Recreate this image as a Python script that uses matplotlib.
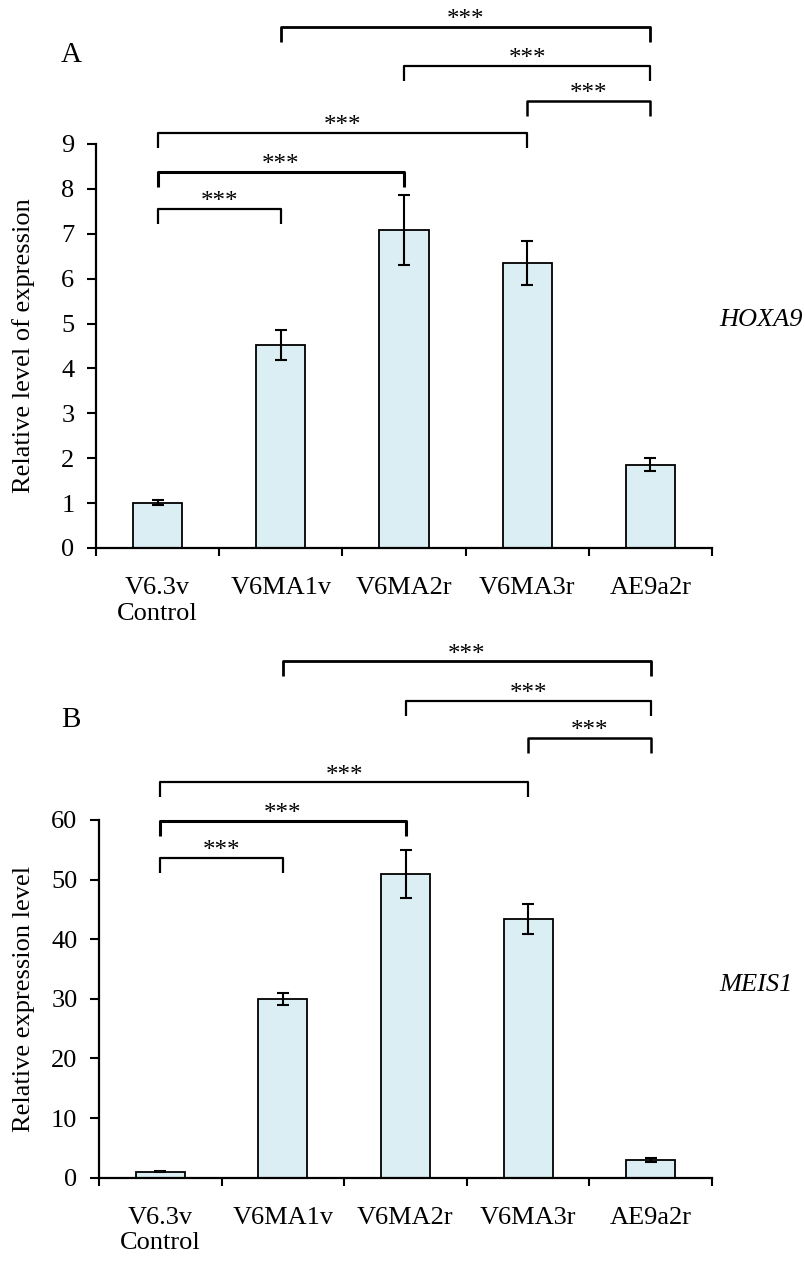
import matplotlib
matplotlib.use('Agg')
import matplotlib.pyplot as plt

plt.rcParams['font.family'] = ['Liberation Serif', 'DejaVu Serif']

groups = ['V6.3v\nControl', 'V6MA1v', 'V6MA2r', 'V6MA3r', 'AE9a2r']
hoxa9 = [1.01, 4.52, 7.08, 6.34, 1.86]
hoxa9_err = [0.06, 0.33, 0.78, 0.49, 0.15]
meis1 = [1.0, 30.0, 51.0, 43.4, 3.0]
meis1_err = [0.1, 0.95, 4.0, 2.45, 0.3]

# significance brackets: which bars are compared, and where the bar sits
pairs = [(0, 1), (0, 2), (0, 3), (3, 4), (2, 4), (1, 4)]
hoxa9_brk = [7.55, 8.38, 9.25, 9.96, 10.74, 11.61]
meis1_brk = [53.6, 59.9, 66.3, 73.8, 80.0, 86.6]
brk_lw = [1.6, 2.2, 1.6, 1.8, 1.6, 2.0]

FS = 19

fig = plt.figure(figsize=(8.05, 12.63), dpi=100)
axA = fig.add_axes([96/805, 1-548/1263, 616/805, 404/1263])
axB = fig.add_axes([99/805, 1-1177.7/1263, 613/805, 357.7/1263])


def panel(ax, vals, errs, brk, leg, ymax, step, ylabel, labx):
    xs = [i + 0.5 for i in range(len(vals))]
    ax.bar(xs, vals, width=0.4, color='#DAEEF3', edgecolor='black', linewidth=1.3, zorder=2)
    ax.errorbar(xs, vals, yerr=errs, fmt='none', ecolor='black', elinewidth=1.5,
                capsize=4, capthick=1.5, zorder=3)
    ax.set_xlim(0, len(vals))
    ax.set_ylim(0, ymax)
    ax.set_yticks(range(0, ymax + 1, step))
    ax.set_xticks(range(len(vals) + 1))
    ax.set_xticklabels([])
    ax.set_xticks(xs, minor=True)
    ax.set_xticklabels(groups, minor=True, fontsize=FS)
    ax.tick_params(axis='x', which='major', direction='out', length=6, width=1.5)
    ax.tick_params(axis='x', which='minor', length=0, pad=21)
    ax.tick_params(axis='y', direction='out', length=6.5, width=1.5, labelsize=FS, pad=9)
    for s in ['top', 'right']:
        ax.spines[s].set_visible(False)
    for s in ['left', 'bottom']:
        ax.spines[s].set_linewidth(1.6)
    ax.set_ylabel(ylabel, fontsize=FS)
    ax.yaxis.set_label_coords(labx, 0.5)
    for (a, b), y, lw in zip(pairs, brk, brk_lw):
        x1, x2 = xs[a], xs[b]
        ax.plot([x1, x1, x2, x2], [y - leg, y, y, y - leg], color='black', lw=lw,
                clip_on=False, solid_capstyle='butt')
        ax.annotate('***', ((x1 + x2) / 2, y), xytext=(0, -3), textcoords='offset points',
                    ha='center', va='bottom', fontsize=18, annotation_clip=False)


panel(axA, hoxa9, hoxa9_err, hoxa9_brk, 0.33, 9, 1, 'Relative level of expression', -0.099)
panel(axB, meis1, meis1_err, meis1_brk, 2.5, 60, 10, 'Relative expression level', -0.104)

fig.text(61/805, 1-55/1263, 'A', fontsize=21, va='center', ha='left')
fig.text(61/805, 1-720/1263, 'B', fontsize=21, va='center', ha='left')
fig.text(719/805, 1-320/1263, 'HOXA9', fontsize=FS, style='italic', va='center', ha='left')
fig.text(719/805, 1-985/1263, 'MEIS1', fontsize=FS, style='italic', va='center', ha='left')

fig.savefig('out.png', dpi=100)
